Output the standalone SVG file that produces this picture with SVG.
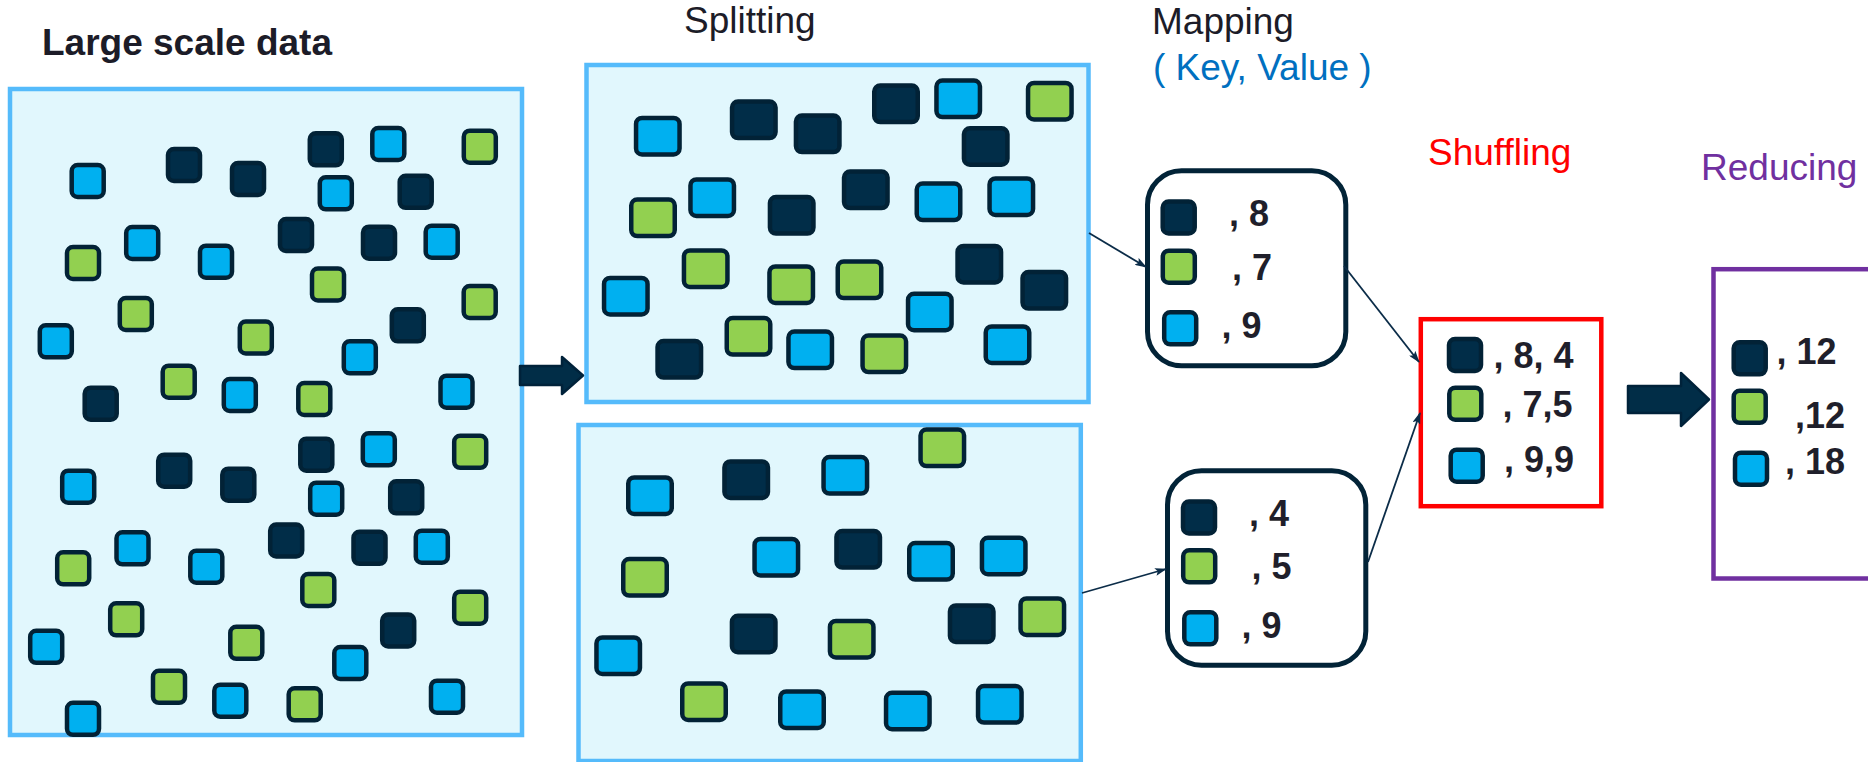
<svg xmlns="http://www.w3.org/2000/svg" xmlns:xlink="http://www.w3.org/1999/xlink" width="1868" height="762" viewBox="0 0 1868 762">
  <style>
    .title { font-family: "Liberation Sans", Arial, sans-serif; font-size: 37px; fill: #1c1c28; }
    .bold { font-weight: bold; }
    .kv { font-family: "Liberation Sans", Arial, sans-serif; font-size: 36px; font-weight: bold; fill: #1f1f2b; }
    .pool { fill: #e1f7fd; stroke: #55bbfb; stroke-width: 4.5; }
    .k { fill: #012d48; }
    .b { fill: #00b0f0; }
    .g { fill: #92d050; }
    .mapbox { fill: #ffffff; stroke: #022337; stroke-width: 5; }
    .edge { fill: none; stroke: #0b2c48; stroke-width: 1.8; marker-end: url(#tip); }
    .bigarrow { fill: #012d47; stroke: #00223a; stroke-width: 2.5; stroke-linejoin: round; }
  </style>
  <defs>
    <!-- square token, small (centred on its use point) -->
    <rect id="sq" x="-16" y="-16" width="32" height="32" rx="6" stroke="#022236" stroke-width="4.5"/>
    <!-- square token, wide variant used in the split blocks -->
    <rect id="sqw" x="-21.75" y="-18.25" width="43.5" height="36.5" rx="6" stroke="#022236" stroke-width="4.5"/>
    <marker id="tip" viewBox="0 0 12 8" refX="11" refY="4" markerWidth="12" markerHeight="8" markerUnits="userSpaceOnUse" orient="auto">
      <path d="M0,0 L12,4 L0,8 L2.5,4 Z" fill="#0b2c48"/>
    </marker>
  </defs>

  <rect width="1868" height="762" fill="#ffffff"/>

  <!-- stage titles -->
  <text class="title bold" x="42" y="55" font-size="38">Large scale data</text>
  <text class="title" x="684" y="33">Splitting</text>
  <text class="title" x="1152" y="34">Mapping</text>
  <text class="title" x="1153" y="80" style="fill:#0070c0">( Key, Value )</text>
  <text class="title" x="1428" y="165" style="fill:#ff0000">Shuffling</text>
  <text class="title" x="1701" y="180" style="fill:#7030a0">Reducing</text>

  <!-- input data -->
  <g id="large-data">
    <rect class="pool" x="10" y="89" width="512" height="646"/>
    <use href="#sq" class="b" x="87.7" y="181"/>
    <use href="#sq" class="k" x="184" y="165"/>
    <use href="#sq" class="k" x="248" y="179"/>
    <use href="#sq" class="k" x="325.8" y="149.3"/>
    <use href="#sq" class="b" x="388.3" y="144"/>
    <use href="#sq" class="g" x="479.8" y="146.7"/>
    <use href="#sq" class="b" x="335.8" y="193.3"/>
    <use href="#sq" class="k" x="415.7" y="191.8"/>
    <use href="#sq" class="g" x="83" y="263"/>
    <use href="#sq" class="b" x="142.2" y="243"/>
    <use href="#sq" class="b" x="216" y="261.7"/>
    <use href="#sq" class="k" x="296" y="235"/>
    <use href="#sq" class="k" x="379" y="242.7"/>
    <use href="#sq" class="b" x="441.7" y="241.7"/>
    <use href="#sq" class="g" x="328" y="284.5"/>
    <use href="#sq" class="g" x="135.8" y="314"/>
    <use href="#sq" class="b" x="55.8" y="341.3"/>
    <use href="#sq" class="g" x="255.8" y="337.5"/>
    <use href="#sq" class="k" x="407.8" y="325.3"/>
    <use href="#sq" class="g" x="479.7" y="302"/>
    <use href="#sq" class="b" x="359.8" y="357.3"/>
    <use href="#sq" class="g" x="178.7" y="381.7"/>
    <use href="#sq" class="k" x="100.7" y="403.7"/>
    <use href="#sq" class="b" x="239.8" y="395"/>
    <use href="#sq" class="g" x="314.3" y="399"/>
    <use href="#sq" class="b" x="456.5" y="391.7"/>
    <use href="#sq" class="k" x="316.3" y="454.7"/>
    <use href="#sq" class="b" x="378.8" y="449.3"/>
    <use href="#sq" class="g" x="470.2" y="451.8"/>
    <use href="#sq" class="b" x="78.2" y="486.7"/>
    <use href="#sq" class="k" x="174.2" y="470.7"/>
    <use href="#sq" class="k" x="238.3" y="484.7"/>
    <use href="#sq" class="b" x="326.2" y="498.7"/>
    <use href="#sq" class="k" x="406.2" y="497.3"/>
    <use href="#sq" class="g" x="73.2" y="568.3"/>
    <use href="#sq" class="b" x="132.5" y="548.3"/>
    <use href="#sq" class="b" x="206.3" y="566.7"/>
    <use href="#sq" class="k" x="286.2" y="540.5"/>
    <use href="#sq" class="k" x="369.5" y="547.8"/>
    <use href="#sq" class="b" x="431.8" y="546.7"/>
    <use href="#sq" class="g" x="318.3" y="590"/>
    <use href="#sq" class="g" x="126.2" y="619.3"/>
    <use href="#sq" class="b" x="46.2" y="646.8"/>
    <use href="#sq" class="g" x="246.3" y="642.8"/>
    <use href="#sq" class="k" x="398.2" y="630.5"/>
    <use href="#sq" class="g" x="470.2" y="607.7"/>
    <use href="#sq" class="b" x="350.3" y="663"/>
    <use href="#sq" class="g" x="169" y="686.8"/>
    <use href="#sq" class="b" x="230.3" y="700.7"/>
    <use href="#sq" class="g" x="304.7" y="704.3"/>
    <use href="#sq" class="b" x="447" y="696.7"/>
    <use href="#sq" class="b" x="83" y="718.8"/>
  </g>

  <!-- first split -->
  <g id="split-1">
    <rect class="pool" x="586.5" y="65" width="502" height="337"/>
    <use href="#sqw" class="b" x="657.8" y="136.2"/>
    <use href="#sqw" class="k" x="753.8" y="119.8"/>
    <use href="#sqw" class="k" x="817.7" y="133.8"/>
    <use href="#sqw" class="k" x="896" y="103.8"/>
    <use href="#sqw" class="b" x="958.2" y="98.8"/>
    <use href="#sqw" class="g" x="1049.8" y="101.2"/>
    <use href="#sqw" class="k" x="985.7" y="146.5"/>
    <use href="#sqw" class="g" x="653" y="217.8"/>
    <use href="#sqw" class="b" x="712.2" y="197.7"/>
    <use href="#sqw" class="k" x="791.7" y="215.3"/>
    <use href="#sqw" class="k" x="865.8" y="189.8"/>
    <use href="#sqw" class="b" x="938.5" y="201.8"/>
    <use href="#sqw" class="b" x="1011.3" y="196.7"/>
    <use href="#sqw" class="g" x="705.7" y="268.7"/>
    <use href="#sqw" class="g" x="791.2" y="284.7"/>
    <use href="#sqw" class="g" x="859.5" y="279.8"/>
    <use href="#sqw" class="k" x="979.3" y="264.2"/>
    <use href="#sqw" class="k" x="1044.3" y="290.3"/>
    <use href="#sqw" class="b" x="625.8" y="296.2"/>
    <use href="#sqw" class="b" x="929.8" y="312"/>
    <use href="#sqw" class="g" x="748.5" y="336.3"/>
    <use href="#sqw" class="k" x="679.3" y="359.3"/>
    <use href="#sqw" class="b" x="810.2" y="349.8"/>
    <use href="#sqw" class="g" x="884.3" y="353.8"/>
    <use href="#sqw" class="b" x="1007.5" y="344.7"/>
  </g>

  <!-- second split -->
  <g id="split-2">
    <rect class="pool" x="578.5" y="425" width="502.3" height="336"/>
    <use href="#sqw" class="b" x="650" y="495.7"/>
    <use href="#sqw" class="k" x="746.2" y="479.7"/>
    <use href="#sqw" class="b" x="845.3" y="475.3"/>
    <use href="#sqw" class="g" x="942.3" y="447.8"/>
    <use href="#sqw" class="g" x="645" y="577.3"/>
    <use href="#sqw" class="b" x="776.3" y="557.2"/>
    <use href="#sqw" class="k" x="858.2" y="549.3"/>
    <use href="#sqw" class="b" x="931" y="561.3"/>
    <use href="#sqw" class="b" x="1003.7" y="556"/>
    <use href="#sqw" class="k" x="971.7" y="623.7"/>
    <use href="#sqw" class="g" x="1042.3" y="616.7"/>
    <use href="#sqw" class="b" x="618.2" y="655.7"/>
    <use href="#sqw" class="k" x="753.7" y="634"/>
    <use href="#sqw" class="g" x="851.7" y="639.2"/>
    <use href="#sqw" class="g" x="704" y="701.7"/>
    <use href="#sqw" class="b" x="802" y="709.7"/>
    <use href="#sqw" class="b" x="907.8" y="711"/>
    <use href="#sqw" class="b" x="999.8" y="704.3"/>
  </g>

  <!-- map outputs -->
  <g id="map-1">
    <rect class="mapbox" x="1147.5" y="170.8" width="198.3" height="195" rx="34"/>
    <use href="#sq" class="k" x="1178.7" y="217.5"/>
    <use href="#sq" class="g" x="1178.8" y="266.7"/>
    <use href="#sq" class="b" x="1180.2" y="328.3"/>
    <text class="kv" x="1229" y="225.7">, 8</text>
    <text class="kv" x="1232" y="280">, 7</text>
    <text class="kv" x="1221.5" y="338.3">, 9</text>
  </g>

  <g id="map-2">
    <rect class="mapbox" x="1167.5" y="470.8" width="198.3" height="194.4" rx="34"/>
    <use href="#sq" class="k" x="1199" y="517.5"/>
    <use href="#sq" class="g" x="1199.2" y="566.3"/>
    <use href="#sq" class="b" x="1200.3" y="628.3"/>
    <text class="kv" x="1249" y="526">, 4</text>
    <text class="kv" x="1251.5" y="579.3">, 5</text>
    <text class="kv" x="1241.5" y="638.3">, 9</text>
  </g>

  <!-- grouped by key -->
  <g id="shuffle">
    <rect x="1420.8" y="319.2" width="180.5" height="187" fill="#ffffff" stroke="#ff0000" stroke-width="4.5"/>
    <use href="#sq" class="k" x="1465" y="355"/>
    <use href="#sq" class="g" x="1465.3" y="403.7"/>
    <use href="#sq" class="b" x="1466.7" y="465.7"/>
    <text class="kv" x="1493.5" y="368.3">, 8, 4</text>
    <text class="kv" x="1502.5" y="416.7">, 7,5</text>
    <text class="kv" x="1504" y="472">, 9,9</text>
  </g>

  <!-- summed per key -->
  <g id="reduce">
    <rect x="1713.5" y="269.2" width="200" height="309.3" fill="#ffffff" stroke="#7030a0" stroke-width="4.5"/>
    <use href="#sq" class="k" x="1749.7" y="358.3"/>
    <use href="#sq" class="g" x="1749.7" y="406.8"/>
    <use href="#sq" class="b" x="1751" y="468.7"/>
    <text class="kv" x="1776.5" y="364">, 12</text>
    <text class="kv" x="1795" y="428.3">,12</text>
    <text class="kv" x="1785" y="474">, 18</text>
  </g>

  <!-- connectors -->
  <g id="connectors">
    <path class="bigarrow" d="M520,366 H562 V357 L583,375.5 L562,394 V385 H520 Z"/>
    <path class="bigarrow" d="M1628,386 H1681 V373 L1709,399.5 L1681,426 V413 H1628 Z"/>
    <path class="edge" d="M1089,233 L1146,267"/>
    <path class="edge" d="M1344,266 L1419,362"/>
    <path class="edge" d="M1082,593 L1166,569"/>
    <path class="edge" d="M1368,562 L1420,413"/>
  </g>
</svg>
